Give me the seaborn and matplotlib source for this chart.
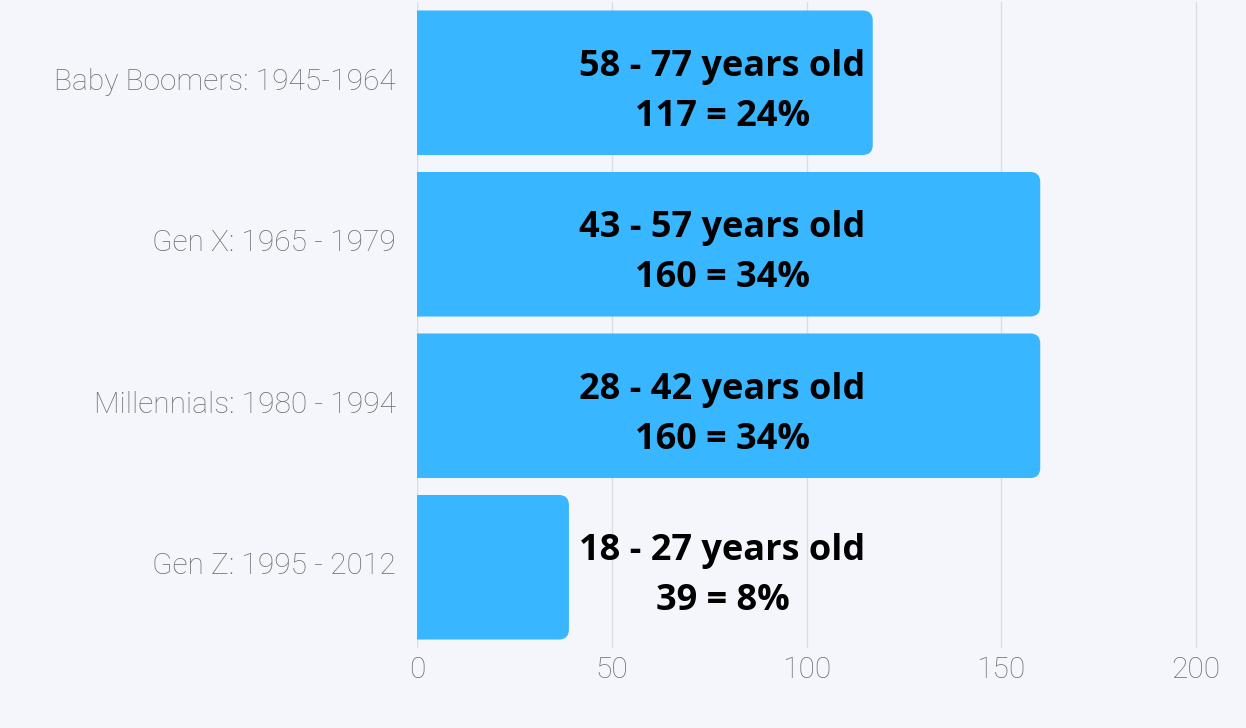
import matplotlib
matplotlib.use("Agg")
import matplotlib.pyplot as plt
import matplotlib.transforms as mtransforms
import seaborn as sns
import pandas as pd
from matplotlib.patches import FancyBboxPatch

generations = ["Baby Boomers: 1945-1964", "Gen X: 1965 - 1979",
               "Millennials: 1980 - 1994", "Gen Z: 1995 - 2012"]
counts = [117, 160, 160, 39]
ages = ["58 - 77 years old", "43 - 57 years old", "28 - 42 years old", "18 - 27 years old"]
shares = ["24%", "34%", "34%", "8%"]
x_ticks = [0, 50, 100, 150, 200]

bg = "#f5f6fb"
bar_color = "#38b6ff"

sns.set_theme(style="white")
plt.rcParams["font.family"] = ["Roboto", "DejaVu Sans"]

df = pd.DataFrame({"generation": generations, "count": counts})

fig = plt.figure(figsize=(12.46, 7.28), dpi=100, facecolor=bg)
ax = fig.add_axes([417 / 1246, 1 - 648 / 728, (1235 - 417) / 1246, 646 / 728])
ax.set_facecolor(bg)

sns.barplot(data=df, x="count", y="generation", color=bar_color, width=0.895,
            saturation=1, ax=ax, zorder=3)

ax.set_xlim(0, 210)
ax.set_ylim(3.5, -0.5)

# swap the square bars for ones with rounded right corners
px_x = (1235 - 417) / 210
px_y = 646 / 4
r = 10 / px_x
for p in list(ax.patches):
    x0, y0 = p.get_x(), p.get_y()
    w, h = p.get_width(), p.get_height()
    p.set_visible(False)
    rb = FancyBboxPatch((x0 - 6, y0), w + 6, h,
                        boxstyle=f"round,pad=0,rounding_size={r}",
                        mutation_aspect=(10 / px_y) / r,
                        facecolor=bar_color, edgecolor="none", zorder=3)
    ax.add_patch(rb)

for i, (age, share) in enumerate(zip(ages, shares)):
    ax.text(78.4, i + 0.055, f"{age}\n{counts[i]} = {share}", ha="center", va="center",
            fontsize=26, fontweight="bold", family=["Open Sans", "DejaVu Sans"],
            color="black", linespacing=1.52, zorder=5)

ax.set_xticks(x_ticks)
ax.grid(axis="x", color="#dcdde2", linewidth=1, zorder=0)
for s in ax.spines.values():
    s.set_visible(False)
ax.axvline(0, color="#dcdde2", linewidth=1, zorder=1)
ax.tick_params(axis="both", length=0, colors="#6f6f6f", labelsize=21.5)
ax.tick_params(axis="y", pad=15)
ax.tick_params(axis="x", pad=6)
shift_up = mtransforms.ScaledTranslation(0, 4 / 100, fig.dpi_scale_trans)
for lbl in ax.get_yticklabels():
    lbl.set_transform(lbl.get_transform() + shift_up)
for lbl in ax.get_xticklabels() + ax.get_yticklabels():
    lbl.set_fontweight("light")
ax.set_xlabel("")
ax.set_ylabel("")

fig.savefig("out.png", dpi=100, facecolor=bg)
